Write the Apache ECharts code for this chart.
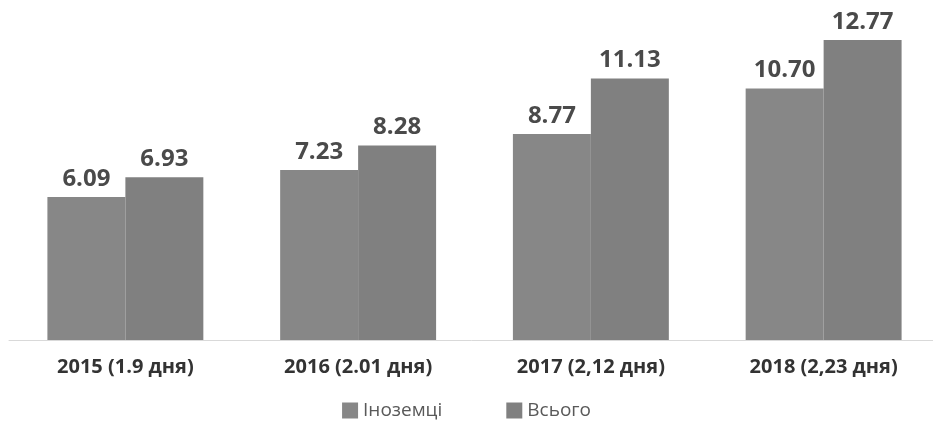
<!DOCTYPE html>
<html>
<head>
<meta charset="utf-8">
<script src="https://cdn.jsdelivr.net/npm/echarts@6/dist/echarts.min.js"></script>
<style>html,body{margin:0;padding:0;background:#fff;}#c{width:933px;height:427px;}</style>
</head>
<body>
<div id="c"></div>
<script>
const categories = ['2015 (1.9 дня)', '2016 (2.01 дня)', '2017 (2,12 дня)', '2018 (2,23 дня)'];
const foreigners = [6.09, 7.23, 8.77, 10.70];
const total = [6.93, 8.28, 11.13, 12.77];
const seriesNames = ['Іноземці', 'Всього'];

const chart = echarts.init(document.getElementById('c'), null, {renderer: 'canvas'});
const labelStyle = {
  show: true, position: 'top', distance: 6,
  fontFamily: 'Open Sans', fontWeight: 'bold', fontSize: 24, color: '#4a4a4a',
  formatter: p => p.value.toFixed(2)
};
chart.setOption({
  animation: false,
  backgroundColor: '#ffffff',
  grid: {left: 9, width: 931, top: 11, bottom: 87, containLabel: false, outerBoundsMode: 'none'},
  legend: {
    bottom: 2, left: 'center', itemWidth: 16, itemHeight: 16, itemGap: 64,
    icon: 'rect',
    textStyle: {fontFamily: 'Open Sans', fontSize: 19, color: '#595959'},
    data: seriesNames
  },
  xAxis: {
    type: 'category', data: categories,
    axisLine: {show: true, lineStyle: {color: '#d9d9d9', width: 1}},
    axisTick: {show: false},
    axisLabel: {fontFamily: 'Open Sans', fontWeight: 'bold', fontSize: 20, color: '#333333', margin: 17}
  },
  yAxis: {type: 'value', min: 0, max: 14, show: false, splitLine: {show: false}},
  series: [
    {name: seriesNames[0], type: 'bar', data: foreigners, barGap: '0%', barCategoryGap: '33%',
     itemStyle: {color: '#878787'}, label: labelStyle},
    {name: seriesNames[1], type: 'bar', data: total, barGap: '0%', barCategoryGap: '33%',
     itemStyle: {color: '#808080'}, label: labelStyle}
  ]
});
</script>
</body>
</html>
